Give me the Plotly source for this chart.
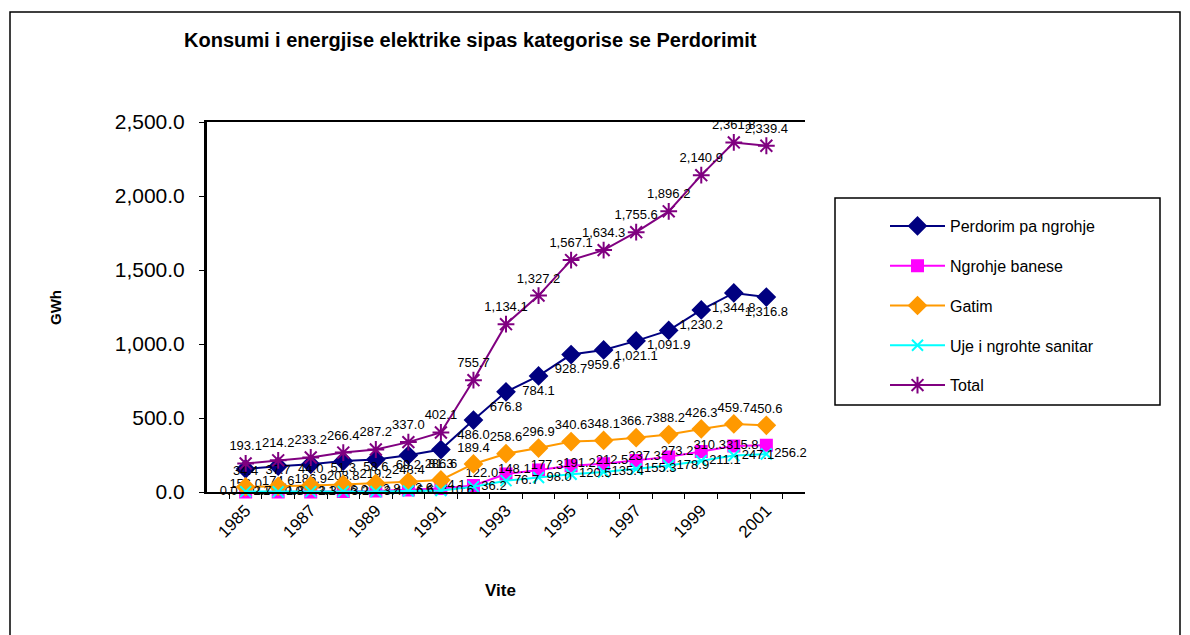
import plotly.graph_objects as go

years = [str(y) for y in range(1985, 2002)]

perdorim = [156.0, 174.6, 186.9, 208.8, 219.2, 248.4, 286.6, 486.0, 676.8, 784.1,
            928.7, 959.6, 1021.1, 1091.9, 1230.2, 1344.8, 1316.8]
ngrohje = [0.0, 0.1, 0.0, 3.1, 6.0, 12.8, 23.6, 44.1, 122.0, 148.1,
           177.3, 191.2, 212.5, 237.3, 273.2, 310.3, 315.8]
gatim = [34.4, 37.7, 44.0, 51.3, 58.6, 69.2, 81.3, 189.4, 258.6, 296.9,
         340.6, 348.1, 366.7, 388.2, 426.3, 459.7, 450.6]
uje = [2.7, 1.8, 2.3, 3.2, 3.4, 6.6, 10.6, 36.2, 76.7, 98.0,
       120.5, 135.4, 155.3, 178.9, 211.1, 247.1, 256.2]
total = [193.1, 214.2, 233.2, 266.4, 287.2, 337.0, 402.1, 755.7, 1134.1, 1327.2,
         1567.1, 1634.3, 1755.6, 1896.2, 2140.9, 2361.8, 2339.4]

tick_text = [y if int(y) % 2 == 1 else "" for y in years]

# page body has an 8px margin, so work in figure pixels = screen pixels - 8
OFF = 8
W, H = 1190 - OFF, 635 - OFF
PL, PR, PT, PB = 207 - OFF, 805 - OFF, 122 - OFF, 492 - OFF


def px_x(v):
    return (v - OFF - PL) / (PR - PL)


def px_y(v):
    return (PB - (v - OFF)) / (PB - PT)


series = [
    ("Perdorim pa ngrohje", perdorim, "#000080", "diamond", 13, "bottom center"),
    ("Ngrohje banese", ngrohje, "#FF00FF", "square", 11, "middle left"),
    ("Gatim", gatim, "#FF9900", "diamond", 13, "top center"),
    ("Uje i ngrohte sanitar", uje, "#00FFFF", "x-thin-open", 11, "middle right"),
    ("Total", total, "#800080", "asterisk-open", 14, "top center"),
]

fig = go.Figure()
for i, (name, vals, color, symbol, size, tpos) in enumerate(series):
    fig.add_trace(go.Scatter(
        x=years, y=vals, name=name, legendgroup=str(i),
        mode="lines+markers+text",
        line=dict(color=color, width=2),
        marker=dict(symbol=symbol, size=size, color=color,
                    line=dict(color=color, width=2)),
        texttemplate="%{y:,.1f}", textposition=tpos,
        textfont=dict(family="Arial, Liberation Sans", size=13, color="black"),
        cliponaxis=False,
    ))

fig.update_layout(
    width=W, height=H,
    margin=dict(l=PL, r=W - PR, t=PT, b=H - PB),
    paper_bgcolor="white", plot_bgcolor="white",
    font=dict(family="Arial, Liberation Sans", color="black"),
    showlegend=True,
    legend=dict(x=px_x(885), y=px_y(209), xanchor="left", yanchor="top",
                font=dict(size=16), tracegroupgap=16, itemwidth=55,
                bgcolor="rgba(0,0,0,0)"),
    xaxis=dict(type="category", tickvals=years, ticktext=tick_text,
               tickson="boundaries", ticks="outside", ticklen=5,
               tickcolor="black", tickangle=-45, tickfont=dict(size=17),
               showline=True, linecolor="black", linewidth=2, mirror=True,
               showgrid=False),
    yaxis=dict(range=[0, 2500], dtick=500, tickformat=",.1f",
               ticks="outside", ticklen=5, tickcolor="black",
               tickfont=dict(size=21), ticklabelstandoff=10,
               showline=True, linecolor="black",
               linewidth=3, showgrid=False, zeroline=False),
    shapes=[
        dict(type="rect", xref="paper", yref="paper",
             x0=px_x(10), x1=px_x(1180), y0=px_y(650), y1=px_y(12),
             line=dict(color="black", width=1.5)),
        dict(type="rect", xref="paper", yref="paper",
             x0=px_x(835), x1=px_x(1160), y0=px_y(405), y1=px_y(198),
             line=dict(color="black", width=1.5)),
    ],
    annotations=[
        dict(text="<b>Konsumi i energjise elektrike sipas kategorise se Perdorimit</b>",
             xref="paper", yref="paper", x=px_x(470), y=px_y(40),
             xanchor="center", yanchor="middle",
             showarrow=False, font=dict(size=20)),
        dict(text="<b>GWh</b>", xref="paper", yref="paper", x=px_x(55), y=px_y(308),
             xanchor="center", yanchor="middle",
             showarrow=False, textangle=-90, font=dict(size=15)),
        dict(text="<b>Vite</b>", xref="paper", yref="paper", x=px_x(500), y=px_y(590),
             xanchor="center", yanchor="middle",
             showarrow=False, font=dict(size=17)),
    ],
)

fig.write_html("out.html")
